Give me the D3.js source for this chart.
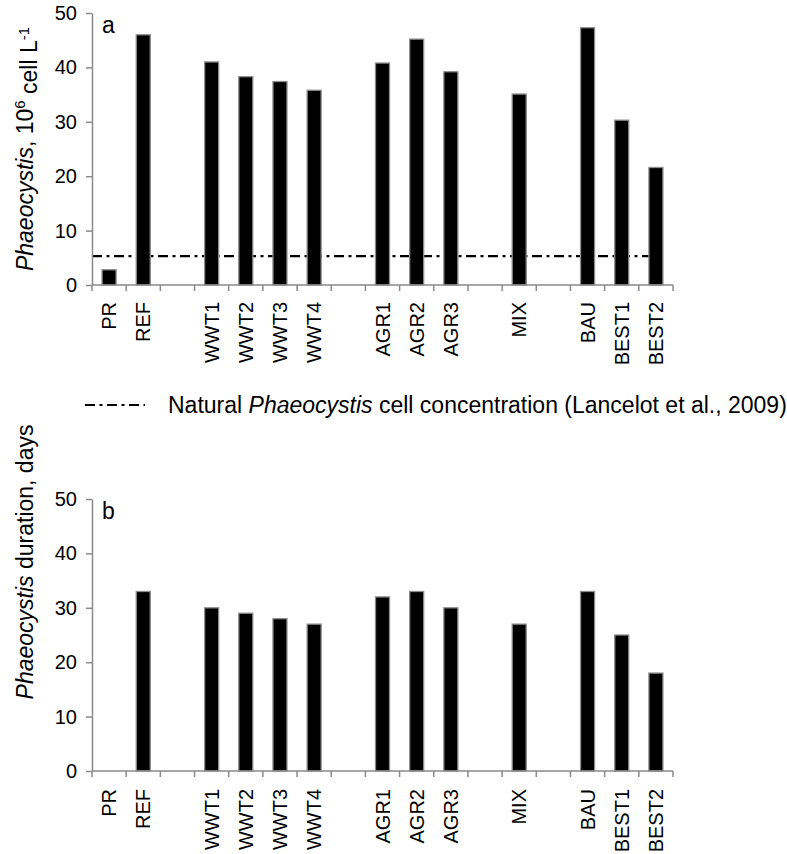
<!DOCTYPE html>
<html>
<head>
<meta charset="utf-8">
<script src="https://cdn.jsdelivr.net/npm/d3@7"></script>
<style>
  html, body { margin: 0; padding: 0; background: #fff; }
  svg { display: block; font-family: "Liberation Sans", Arial, Helvetica, sans-serif; }
</style>
</head>
<body>
<svg id="chart" width="787" height="854"></svg>
<script>
// Scenario categories (blank slots separate the scenario groups)
const categories = ["PR", "REF", "", "WWT1", "WWT2", "WWT3", "WWT4", "", "AGR1", "AGR2", "AGR3", "", "MIX", "", "BAU", "BEST1", "BEST2"];

// Panel a: Phaeocystis maximum cell concentration, 10^6 cell/L
const cellConcentration = [2.8, 46.0, null, 41.0, 38.3, 37.4, 35.8, null, 40.8, 45.2, 39.2, null, 35.1, null, 47.3, 30.3, 21.6];

// Panel b: Phaeocystis bloom duration, days
const bloomDuration = [0, 33, null, 30, 29, 28, 27, null, 32, 33, 30, null, 27, null, 33, 25, 18];

// Natural Phaeocystis cell concentration (Lancelot et al., 2009)
const naturalConcentration = 5.3;

const yTicks = [0, 10, 20, 30, 40, 50];

const svg = d3.select("#chart");
const axisColor = "#8a8a8a";
const dashDot = "10,4.5,3,4.5";
const left = 92, right = 673;

const x = d3.scaleBand()
  .domain(d3.range(categories.length))
  .range([left, right])
  .paddingInner(0.59)
  .paddingOuter(0.295);
const step = x.step();
const center = i => x(i) + x.bandwidth() / 2;

function drawPanel(cfg) {
  const y = d3.scaleLinear().domain([0, 50]).range([cfg.bottom, cfg.top]);
  const g = svg.append("g");

  // reference line sits behind the bars
  if (cfg.refLine != null) {
    g.append("line")
      .attr("x1", left).attr("x2", center(categories.length - 1))
      .attr("y1", y(cfg.refLine)).attr("y2", y(cfg.refLine))
      .attr("stroke", "#000").attr("stroke-width", 2.2)
      .attr("stroke-dasharray", dashDot);
  }

  // bars
  g.selectAll("rect.bar")
    .data(cfg.values.map((v, i) => ({ v, i })).filter(d => d.v != null && d.v > 0))
    .join("rect")
    .attr("class", "bar")
    .attr("x", d => x(d.i))
    .attr("width", x.bandwidth())
    .attr("y", d => y(d.v))
    .attr("height", d => y(0) - y(d.v))
    .attr("fill", "#000")
    .attr("stroke", "#8c8c8c")
    .attr("stroke-width", 1.3);

  // y axis
  const yAxis = g.append("g")
    .attr("transform", `translate(${left},0)`)
    .call(d3.axisLeft(y).tickValues(yTicks).tickSize(6).tickPadding(9).tickSizeOuter(0));
  yAxis.select(".domain").attr("stroke", axisColor).attr("stroke-width", 1.5);
  yAxis.selectAll(".tick line").attr("stroke", axisColor).attr("stroke-width", 1.5);
  yAxis.selectAll(".tick text")
    .attr("fill", "#000")
    .style("font-size", "20px")
    .style("font-family", "'Liberation Sans', Arial, sans-serif");

  // x axis line with tick marks on slot boundaries
  g.append("line")
    .attr("x1", left).attr("x2", right)
    .attr("y1", y(0)).attr("y2", y(0))
    .attr("stroke", axisColor).attr("stroke-width", 1.5);
  g.selectAll("line.xtick")
    .data(d3.range(categories.length + 1))
    .join("line")
    .attr("class", "xtick")
    .attr("x1", i => left + i * step).attr("x2", i => left + i * step)
    .attr("y1", y(0)).attr("y2", y(0) + 6)
    .attr("stroke", axisColor).attr("stroke-width", 1.5);

  // category labels, rotated
  g.selectAll("text.cat")
    .data(categories.map((c, i) => ({ c, i })).filter(d => d.c !== ""))
    .join("text")
    .attr("class", "cat")
    .attr("transform", d => `translate(${center(d.i)},${y(0) + cfg.labelGap}) rotate(-90)`)
    .attr("text-anchor", "end")
    .attr("dy", "0.35em")
    .style("font-size", "20px")
    .text(d => d.c);

  // panel letter
  g.append("text")
    .attr("x", 102).attr("y", cfg.top + 20)
    .style("font-size", "23px")
    .text(cfg.letter);

  // y axis title
  const t = g.append("text")
    .attr("transform", `translate(33,${cfg.titleCenter}) rotate(-90)`)
    .attr("text-anchor", "middle")
    .style("font-size", "23px");
  cfg.title(t);
}

drawPanel({
  top: 13, bottom: 285, labelGap: 17, letter: "a", titleCenter: 149,
  values: cellConcentration, refLine: naturalConcentration,
  title: t => {
    t.append("tspan").style("font-style", "italic").text("Phaeocystis");
    t.append("tspan").text(", 10");
    t.append("tspan").attr("dy", "-0.55em").style("font-size", "15px").text("6");
    t.append("tspan").attr("dy", "0.55em").text(" cell L");
    t.append("tspan").attr("dy", "-0.55em").style("font-size", "15px").text("-1");
  }
});

drawPanel({
  top: 499, bottom: 771, labelGap: 18, letter: "b", titleCenter: 562,
  values: bloomDuration, refLine: null,
  title: t => {
    t.append("tspan").style("font-style", "italic").text("Phaeocystis");
    t.append("tspan").text(" duration, days");
  }
});

// legend for the reference line
const legendY = 405;
svg.append("line")
  .attr("x1", 85).attr("x2", 145)
  .attr("y1", legendY).attr("y2", legendY)
  .attr("stroke", "#000").attr("stroke-width", 2.2)
  .attr("stroke-dasharray", dashDot);
const lt = svg.append("text")
  .attr("x", 168).attr("y", legendY + 8)
  .style("font-size", "23px");
lt.append("tspan").text("Natural ");
lt.append("tspan").style("font-style", "italic").text("Phaeocystis");
lt.append("tspan").text(" cell concentration (Lancelot et al., 2009)");
</script>
</body>
</html>
